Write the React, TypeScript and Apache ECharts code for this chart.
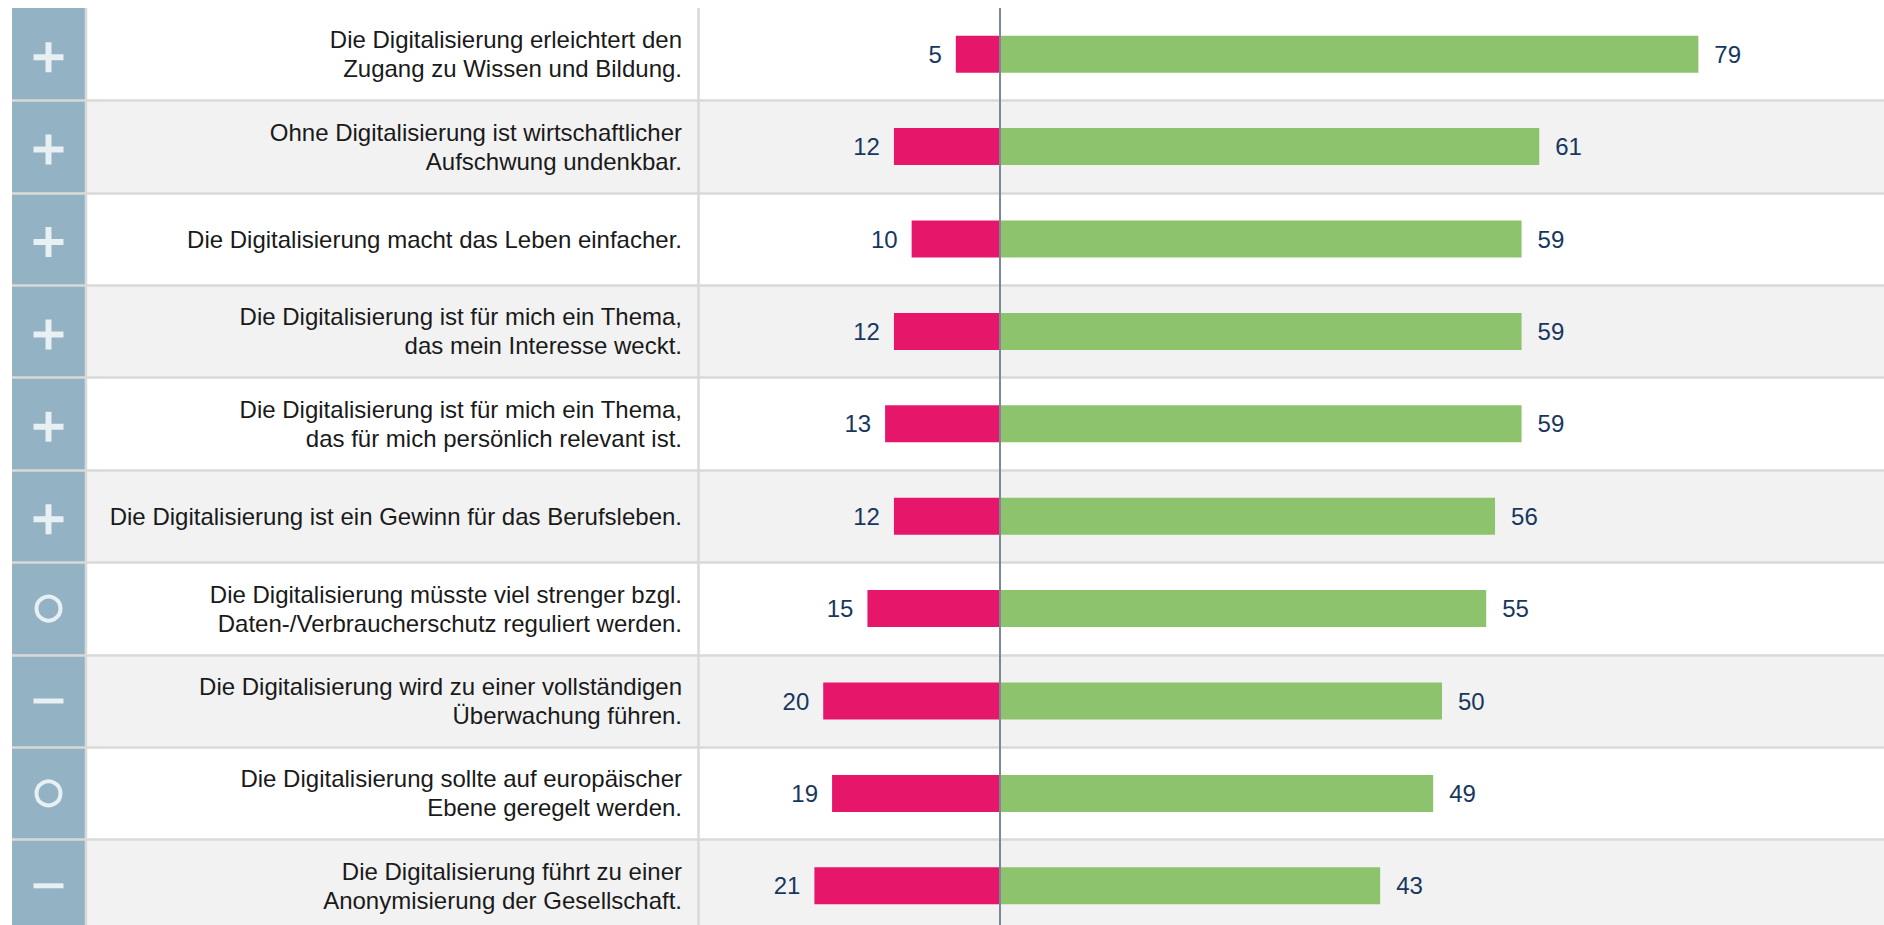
import React, { useEffect, useRef } from "react";
import * as echarts from "echarts";

const categories: string[] = [
  "Die Digitalisierung erleichtert den\nZugang zu Wissen und Bildung.",
  "Ohne Digitalisierung ist wirtschaftlicher\nAufschwung undenkbar.",
  "Die Digitalisierung macht das Leben einfacher.",
  "Die Digitalisierung ist für mich ein Thema,\ndas mein Interesse weckt.",
  "Die Digitalisierung ist für mich ein Thema,\ndas für mich persönlich relevant ist.",
  "Die Digitalisierung ist ein Gewinn für das Berufsleben.",
  "Die Digitalisierung müsste viel strenger bzgl.\nDaten-/Verbraucherschutz reguliert werden.",
  "Die Digitalisierung wird zu einer vollständigen\nÜberwachung führen.",
  "Die Digitalisierung sollte auf europäischer\nEbene geregelt werden.",
  "Die Digitalisierung führt zu einer\nAnonymisierung der Gesellschaft.",
];
const disagree: number[] = [5, 12, 10, 12, 13, 12, 15, 20, 19, 21];
const agree: number[] = [79, 61, 59, 59, 59, 56, 55, 50, 49, 43];
const signs: string[] = ["+", "+", "+", "+", "+", "+", "o", "-", "o", "-"];

const FONT = "Arial, 'Liberation Sans', Helvetica, sans-serif";
const PLUS = "path://M12,0h6v12h12v6h-12v12h-6v-12h-12v-6h12z";

export default function App() {
  const ref = useRef<HTMLDivElement>(null);
  useEffect(() => {
    if (!ref.current) return;
    const chart = echarts.init(ref.current, undefined, { renderer: "svg" });
    const iconData = signs.map((s, i) => {
      if (s === "+") {
        return {
          value: [0, i],
          symbol: PLUS,
          symbolSize: 30,
          symbolOffset: [0, 3],
          itemStyle: { color: "#ffffff" },
        };
      }
      if (s === "o") {
        return {
          value: [0, i],
          symbol: "circle",
          symbolSize: 24,
          itemStyle: { color: "rgba(0,0,0,0)", borderColor: "#ffffff", borderWidth: 4 },
        };
      }
      return {
        value: [0, i],
        symbol: "rect",
        symbolSize: [30, 5],
        itemStyle: { color: "#ffffff" },
      };
    });
    const skipFirst = (idx: number) => idx !== 0;
    chart.setOption({
      animation: false,
      backgroundColor: "#ffffff",
      textStyle: { fontFamily: FONT },
      grid: [
        { left: 86, right: 0, top: 8, height: 924 },
        { left: 12, width: 73, top: 8, height: 924 },
      ],
      xAxis: [
        { gridIndex: 0, type: "value", min: -103.4, max: 100, show: false },
        { gridIndex: 1, type: "value", min: -1, max: 1, show: false },
      ],
      yAxis: [
        {
          gridIndex: 0,
          type: "category",
          data: categories,
          inverse: true,
          axisLine: { show: false },
          axisTick: { show: false },
          axisLabel: { show: false },
          splitArea: { show: true, areaStyle: { color: ["#ffffff", "#f2f2f2"] } },
          splitLine: { show: true, interval: skipFirst, lineStyle: { color: "#d9d9d9", width: 2.5 } },
        },
        {
          gridIndex: 0,
          type: "category",
          data: categories,
          inverse: true,
          position: "left",
          offset: -596,
          axisLine: { show: false },
          axisTick: { show: false },
          splitLine: { show: false },
          axisLabel: {
            margin: 0,
            fontSize: 24,
            lineHeight: 29,
            color: "#1a1a1a",
            fontFamily: FONT,
            align: "right",
          },
        },
        {
          gridIndex: 1,
          type: "category",
          data: categories,
          inverse: true,
          axisLine: { show: false },
          axisTick: { show: false },
          axisLabel: { show: false },
          splitArea: { show: true, areaStyle: { color: ["#93b2c4"] } },
          splitLine: { show: true, interval: skipFirst, lineStyle: { color: "#d9d9d9", width: 2.5 } },
        },
      ],
      graphic: [
        {
          type: "line",
          shape: { x1: 86, y1: 8, x2: 86, y2: 932 },
          style: { stroke: "#d9d9d9", lineWidth: 2.5 },
          z: 10,
        },
        {
          type: "line",
          shape: { x1: 698.5, y1: 8, x2: 698.5, y2: 932 },
          style: { stroke: "#d9d9d9", lineWidth: 2.5 },
          z: 10,
        },
      ],
      series: [
        {
          type: "bar",
          name: "Ablehnung",
          xAxisIndex: 0,
          yAxisIndex: 0,
          stack: "total",
          data: disagree.map((v) => -v),
          barWidth: 37,
          itemStyle: { color: "#e6166a" },
          label: {
            show: true,
            position: "left",
            distance: 14,
            fontSize: 24,
            color: "#17375e",
            fontFamily: FONT,
            formatter: (p: any) => String(Math.abs(p.value)),
          },
        },
        {
          type: "bar",
          name: "Zustimmung",
          xAxisIndex: 0,
          yAxisIndex: 0,
          stack: "total",
          data: agree,
          barWidth: 37,
          itemStyle: { color: "#8cc36c" },
          label: {
            show: true,
            position: "right",
            distance: 16,
            fontSize: 24,
            color: "#17375e",
            fontFamily: FONT,
          },
          markLine: {
            silent: true,
            symbol: "none",
            label: { show: false },
            lineStyle: { color: "#7f8794", width: 2, type: "solid" },
            data: [{ xAxis: 0 }],
            z: 10,
          },
        },
        {
          type: "scatter",
          xAxisIndex: 1,
          yAxisIndex: 2,
          data: iconData,
          silent: true,
        },
      ],
    });
    return () => chart.dispose();
  }, []);
  return (
    <div
      style={{
        position: "fixed",
        left: 0,
        top: 0,
        width: 1884,
        height: 925,
        overflow: "hidden",
        background: "#ffffff",
      }}
    >
      <div ref={ref} style={{ width: 1884, height: 932 }} />
    </div>
  );
}
